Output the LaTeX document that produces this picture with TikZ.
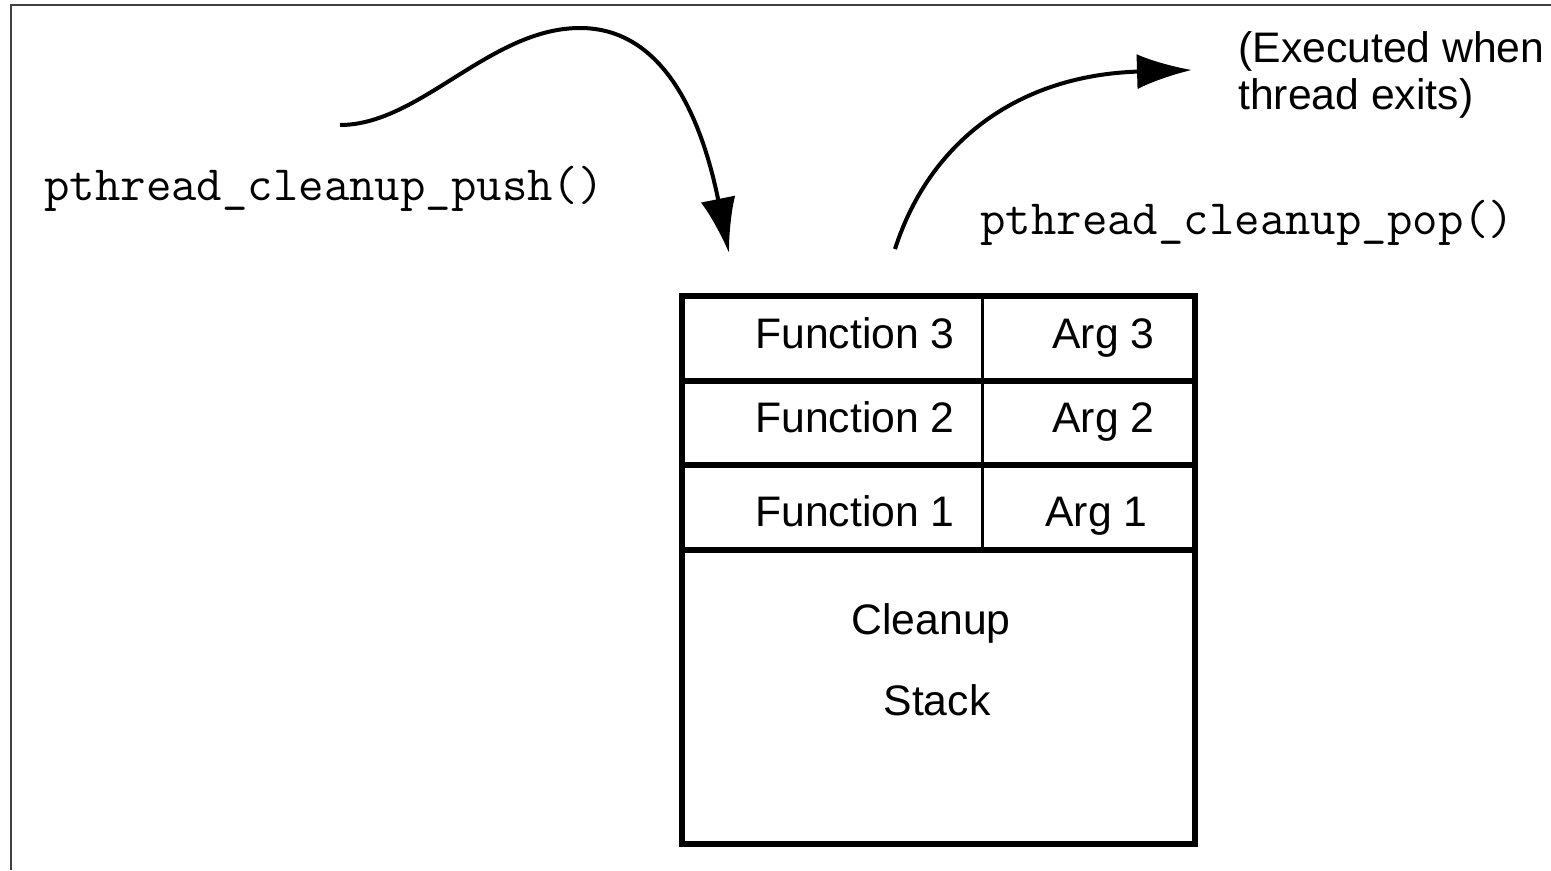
\documentclass[tikz,border=0pt]{standalone}
\usepackage{fontspec}
\setmainfont{Liberation Sans}
\usetikzlibrary{arrows.meta}

\begin{document}
\begin{tikzpicture}[x=0.02cm, y=-0.02cm,
	cell/.style={anchor=base west, inner sep=0pt, font=\fontsize{24.3}{26.6}\selectfont},
	call/.style={anchor=base west, inner sep=0pt, font=\fontsize{28.1}{30}\selectfont\ttfamily},
	rule/.style={line width=0.12cm},
	flow/.style={line width=0.08cm, -{Latex[length=1.1cm, width=0.7cm]}}]
	\useasboundingbox (0,0) rectangle (1551,870);
	\draw [line width=0.04cm, black!75] (11,870) -- (11,5) -- (1551,5);
	% the stack
	\draw [rule] (682,296) rectangle (1195,844);
	\draw [rule] (682,381) -- (1195,381);
	\draw [rule] (682,465) -- (1195,465);
	\draw [rule] (682,550) -- (1195,550);
	\draw [line width=0.06cm] (982,296) -- (982,550);
	\node [cell] (fnthree) at (755,348) {Function 3};
	\node [cell] (argthree) at (1052,348) {Arg 3};
	\node [cell] (fntwo) at (755,432) {Function 2};
	\node [cell] (argtwo) at (1052,432) {Arg 2};
	\node [cell] (fnone) at (755,526) {Function 1};
	\node [cell] (argone) at (1045,526) {Arg 1};
	\node [cell, anchor=base] (cleanup) at (931,634) {Cleanup};
	\node [cell, anchor=base] (stack) at (937,715) {Stack};
	% calls
	\node [call] (push) at (44,200) {pthread\_cleanup\_push()};
	\node [call] (pop) at (980,234) {pthread\_cleanup\_pop()};
	\node [cell] (exitone) at (1238,62) {(Executed when};
	\node [cell] (exittwo) at (1238,109) {thread exits)};
	\coordinate (pushfrom) at (340,125);
	\coordinate (pushto) at (729,253);
	\coordinate (popfrom) at (895,249);
	\coordinate (popto) at (1192,70);
	\draw [flow] (pushfrom) .. controls (420,125) and (490,28) .. (580,28) .. controls (660,28) and (700,110) .. (pushto);
	\draw [flow] (popfrom) .. controls (930,140) and (1020,75) .. (popto);
\end{tikzpicture}
\end{document}
